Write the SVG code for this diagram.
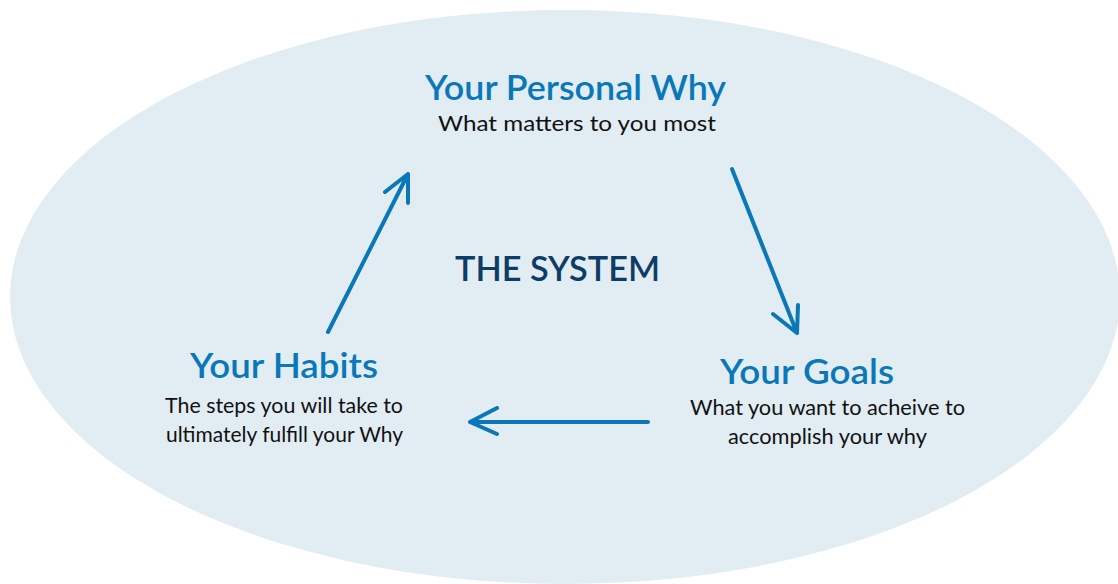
<svg xmlns="http://www.w3.org/2000/svg" width="1118" height="584" viewBox="0 0 1118 584">
  <style>
    .title { font-family: Lato, "Noto Sans", sans-serif; font-weight: 600; font-size: 34px; fill: #0a78b8; text-anchor: middle; }
    .sub { font-family: Lato, "Noto Sans", sans-serif; font-weight: 400; font-size: 21.5px; fill: #111111; text-anchor: middle; }
    .center { font-family: Lato, "Noto Sans", sans-serif; font-weight: 600; font-size: 34px; fill: #0d3d66; text-anchor: middle; }
    .conn { fill: none; stroke: #0a78b8; stroke-width: 4; stroke-linecap: round; stroke-linejoin: round; }
  </style>
  <rect width="1118" height="584" fill="#ffffff"/>
  <ellipse id="background" cx="565" cy="297" rx="555" ry="287" fill="#e1ecf3"/>
  <g id="system-label">
    <text class="center" x="557.5" y="281" textLength="205" lengthAdjust="spacingAndGlyphs">THE SYSTEM</text>
  </g>
  <g id="node-why">
    <text class="title" x="575.5" y="100" textLength="301" lengthAdjust="spacingAndGlyphs">Your Personal Why</text>
    <text class="sub" x="577" y="131" textLength="278" lengthAdjust="spacingAndGlyphs">What matters to you most</text>
  </g>
  <g id="node-goals">
    <text class="title" x="807" y="384" textLength="174" lengthAdjust="spacingAndGlyphs">Your Goals</text>
    <text class="sub" x="827.5" y="415" textLength="275" lengthAdjust="spacingAndGlyphs">What you want to acheive to</text>
    <text class="sub" x="827.5" y="444" textLength="199" lengthAdjust="spacingAndGlyphs">accomplish your why</text>
  </g>
  <g id="node-habits">
    <text class="title" x="284" y="378" textLength="188" lengthAdjust="spacingAndGlyphs">Your Habits</text>
    <text class="sub" x="284" y="413" textLength="238" lengthAdjust="spacingAndGlyphs">The steps you will take to</text>
    <text class="sub" x="284.5" y="442" textLength="237" lengthAdjust="spacingAndGlyphs">ultimately fulfill your Why</text>
  </g>
  <g id="connectors">
    <path class="conn" d="M732 169 L797 333 M773 314 L797 333 L798 305"/>
    <path class="conn" d="M648 422 L470 422 M497 408 L470 422 L497 434"/>
    <path class="conn" d="M328 332 L408 174 M385 192 L408 174 L408 203"/>
  </g>
</svg>
